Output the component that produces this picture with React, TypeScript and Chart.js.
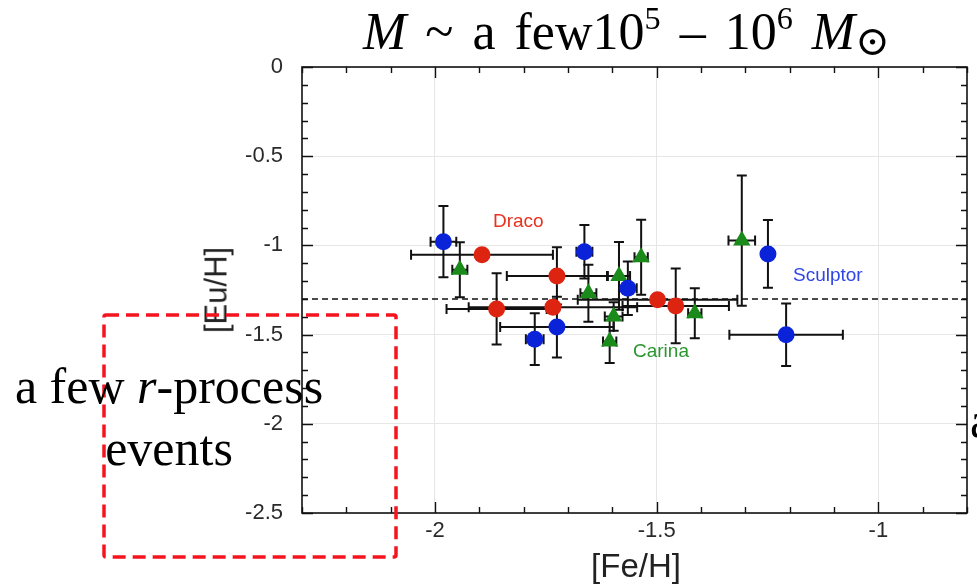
import React, { useEffect, useRef } from "react";
import { Chart, registerables } from "chart.js";

Chart.register(...registerables);

// ---- data ----
const dracoFeH = [-1.894, -1.725, -1.861, -1.734, -1.498, -1.457];
const dracoEuH = [-1.053, -1.171, -1.356, -1.346, -1.305, -1.339];
const dracoFeErr = [0.16, 0.113, 0.113, 0.19, 0.18, 0.12];
const dracoEuErr = [0, 0.16, 0.2, 0, 0, 0.21];

const sculptorFeH = [-1.981, -1.663, -1.565, -1.775, -1.725, -1.249, -1.208];
const sculptorEuH = [-0.979, -1.035, -1.24, -1.526, -1.458, -1.048, -1.501];
const sculptorFeErr = [0.029, 0.018, 0.02, 0.02, 0.128, 0.01, 0.128];
const sculptorEuErr = [0.2, 0.15, 0.15, 0.145, 0.17, 0.19, 0.175];

const carinaFeH = [-1.944, -1.654, -1.606, -1.597, -1.585, -1.535, -1.414, -1.308];
const carinaEuH = [-1.137, -1.268, -1.539, -1.399, -1.171, -1.066, -1.38, -0.973];
const carinaFeErr = [0.017, 0.018, 0.015, 0.02, 0.025, 0.015, 0.015, 0.03];
const carinaEuErr = [0.154, 0.16, 0.12, 0.08, 0.19, 0.21, 0.14, 0.365];

const meanEuH = -1.3;
const xRange = [-2.3, -0.8];
const yRange = [-2.5, 0];
const xTickValues = [-2, -1.5, -1];
const yTickValues = [0, -0.5, -1, -1.5, -2, -2.5];

const RED = "#dc2410";
const BLUE = "#0a23d8";
const GREEN = "#1a8a1a";

const toPoints = (xs: number[], ys: number[]) => xs.map((x, i) => ({ x, y: ys[i] }));

const errorBarPlugin = {
  id: "errorBars",
  beforeDatasetsDraw(chart: any) {
    const { ctx } = chart;
    const xs = chart.scales.x;
    const ys = chart.scales.y;
    ctx.save();
    ctx.strokeStyle = "#111";
    ctx.lineWidth = 2;
    const cap = 5;
    chart.data.datasets.forEach((ds: any) => {
      if (!ds.xErr) return;
      ds.data.forEach((p: any, i: number) => {
        const px = xs.getPixelForValue(p.x);
        const py = ys.getPixelForValue(p.y);
        const xe = ds.xErr[i];
        const ye = ds.yErr[i];
        ctx.beginPath();
        if (xe > 0) {
          const x1 = xs.getPixelForValue(p.x - xe);
          const x2 = xs.getPixelForValue(p.x + xe);
          ctx.moveTo(x1, py);
          ctx.lineTo(x2, py);
          ctx.moveTo(x1, py - cap);
          ctx.lineTo(x1, py + cap);
          ctx.moveTo(x2, py - cap);
          ctx.lineTo(x2, py + cap);
        }
        if (ye > 0) {
          const y1 = ys.getPixelForValue(p.y - ye);
          const y2 = ys.getPixelForValue(p.y + ye);
          ctx.moveTo(px, y1);
          ctx.lineTo(px, y2);
          ctx.moveTo(px - cap, y1);
          ctx.lineTo(px + cap, y1);
          ctx.moveTo(px - cap, y2);
          ctx.lineTo(px + cap, y2);
        }
        ctx.stroke();
      });
    });
    ctx.restore();
  },
};

const frameTicksPlugin = {
  id: "frameTicks",
  afterDraw(chart: any) {
    const { ctx, chartArea } = chart;
    const { left, right, top, bottom } = chartArea;
    const xs = chart.scales.x;
    const ys = chart.scales.y;
    ctx.save();
    ctx.strokeStyle = "#111";
    ctx.lineWidth = 1.6;
    ctx.strokeRect(left, top, right - left, bottom - top);
    ctx.beginPath();
    const isMajor = (v: number) => Math.abs(v * 2 - Math.round(v * 2)) < 1e-6;
    for (let i = Math.round(xRange[0] * 10); i <= Math.round(xRange[1] * 10); i++) {
      const v = i / 10;
      const px = Math.round(xs.getPixelForValue(v)) + 0.5;
      const len = isMajor(v) ? 11 : 6;
      ctx.moveTo(px, bottom);
      ctx.lineTo(px, bottom - len);
      ctx.moveTo(px, top);
      ctx.lineTo(px, top + len);
    }
    for (let i = Math.round(yRange[0] * 10); i <= Math.round(yRange[1] * 10); i++) {
      const v = i / 10;
      const py = Math.round(ys.getPixelForValue(v)) + 0.5;
      const len = isMajor(v) ? 11 : 6;
      ctx.moveTo(left, py);
      ctx.lineTo(left + len, py);
      ctx.moveTo(right, py);
      ctx.lineTo(right - len, py);
    }
    ctx.lineWidth = 1.4;
    ctx.stroke();
    ctx.restore();
  },
};

export default function App() {
  const canvasRef = useRef<HTMLCanvasElement | null>(null);

  useEffect(() => {
    const canvas = canvasRef.current;
    if (!canvas) return;
    const tickFont = { family: "'Liberation Sans', Arial, sans-serif", size: 22 };
    const chart = new Chart(canvas, {
      type: "scatter",
      data: {
        datasets: [
          {
            label: "Draco",
            data: toPoints(dracoFeH, dracoEuH),
            xErr: dracoFeErr,
            yErr: dracoEuErr,
            pointStyle: "circle",
            pointRadius: 8.5,
            backgroundColor: RED,
            borderWidth: 0,
          } as any,
          {
            label: "Sculptor",
            data: toPoints(sculptorFeH, sculptorEuH),
            xErr: sculptorFeErr,
            yErr: sculptorEuErr,
            pointStyle: "circle",
            pointRadius: 8.5,
            backgroundColor: BLUE,
            borderWidth: 0,
          } as any,
          {
            label: "Carina",
            data: toPoints(carinaFeH, carinaEuH),
            xErr: carinaFeErr,
            yErr: carinaEuErr,
            pointStyle: "triangle",
            pointRadius: 10,
            backgroundColor: GREEN,
            borderWidth: 0,
          } as any,
          {
            label: "mean",
            data: [
              { x: xRange[0], y: meanEuH },
              { x: xRange[1], y: meanEuH },
            ],
            showLine: true,
            borderColor: "#111",
            borderWidth: 1.5,
            borderDash: [6, 4],
            pointRadius: 0,
          } as any,
        ],
      },
      options: {
        responsive: false,
        animation: false,
        devicePixelRatio: 1,
        layout: { padding: { top: 67, right: 7, left: 0, bottom: 0 } },
        plugins: {
          legend: { display: false },
          tooltip: { enabled: false },
          title: { display: false },
        },
        scales: {
          x: {
            type: "linear",
            min: xRange[0],
            max: xRange[1],
            afterBuildTicks: (s: any) => {
              s.ticks = xTickValues.map((v) => ({ value: v }));
            },
            afterFit: (s: any) => {
              s.height = 75;
            },
            grid: { color: "#e6e6e6", lineWidth: 1, drawTicks: false },
            border: { display: false },
            ticks: {
              font: tickFont,
              color: "#2a2a2a",
              padding: 5,
              maxRotation: 0,
              callback: (v: any) => String(v),
            },
          },
          y: {
            type: "linear",
            min: yRange[0],
            max: yRange[1],
            afterBuildTicks: (s: any) => {
              s.ticks = yTickValues.map((v) => ({ value: v }));
            },
            afterFit: (s: any) => {
              s.width = 302;
            },
            grid: { color: "#e6e6e6", lineWidth: 1, drawTicks: false },
            border: { display: false },
            ticks: {
              font: tickFont,
              color: "#2a2a2a",
              padding: 19,
              callback: (v: any) => String(v),
            },
          },
        },
      },
      plugins: [errorBarPlugin, frameTicksPlugin],
    } as any);
    return () => chart.destroy();
  }, []);

  const sans = "'Liberation Sans', Arial, sans-serif";
  const serif = "'Liberation Serif', 'Times New Roman', 'DejaVu Serif', serif";
  const supStyle: React.CSSProperties = { fontSize: "0.62em", position: "relative", top: "-0.62em", verticalAlign: "baseline" };

  return (
    <div
      style={{
        position: "fixed",
        left: 0,
        top: 0,
        width: 977,
        height: 588,
        overflow: "hidden",
        background: "#fff",
      }}
    >
      <canvas ref={canvasRef} width={977} height={588} style={{ position: "absolute", left: 0, top: 0 }} />

      {/* series labels */}
      <div style={{ position: "absolute", left: 493, top: 211, font: `19px ${sans}`, lineHeight: "19px", color: "#e8321e", whiteSpace: "nowrap" }}>Draco</div>
      <div style={{ position: "absolute", left: 793, top: 265, font: `19px ${sans}`, lineHeight: "19px", color: "#2f46e6", whiteSpace: "nowrap" }}>Sculptor</div>
      <div style={{ position: "absolute", left: 633, top: 341, font: `19px ${sans}`, lineHeight: "19px", color: "#2a962f", whiteSpace: "nowrap" }}>Carina</div>

      {/* axis titles */}
      <div style={{ position: "absolute", left: 636, top: 565, transform: "translate(-50%, -50%)", font: `33px ${sans}`, lineHeight: "33px", color: "#222", whiteSpace: "nowrap" }}>[Fe/H]</div>
      <div style={{ position: "absolute", left: 216, top: 290, transform: "translate(-50%, -50%) rotate(-90deg)", font: `31px ${sans}`, lineHeight: "31px", color: "#222", whiteSpace: "nowrap" }}>[Eu/H]</div>

      {/* title */}
      <div style={{ position: "absolute", left: 363, top: 6, font: `52px ${serif}`, lineHeight: "52px", wordSpacing: "6px", color: "#000", whiteSpace: "nowrap" }}>
        <i>M</i> ~ a few10<span style={supStyle}>5</span> – 10<span style={supStyle}>6</span> <i>M</i>
        <span style={{ fontSize: "0.8em", position: "relative", top: "0.15em" }}>⊙</span>
      </div>

      {/* red dashed box */}
      <svg width={977} height={588} style={{ position: "absolute", left: 0, top: 0 }}>
        <rect x={104} y={315} width={292} height={242} rx={2} fill="none" stroke="#f5141e" strokeWidth={3.5} strokeDasharray="13 7" />
      </svg>

      {/* annotation */}
      <div style={{ position: "absolute", left: 0, top: 355, width: 338, textAlign: "center", font: `50px ${serif}`, lineHeight: "62px", color: "#000" }}>
        a few <i>r</i>-process
        <br />
        events
      </div>
      <div style={{ position: "absolute", left: 970, top: 395, font: `50px ${serif}`, lineHeight: "50px", color: "#000", whiteSpace: "nowrap" }}>a</div>
    </div>
  );
}
